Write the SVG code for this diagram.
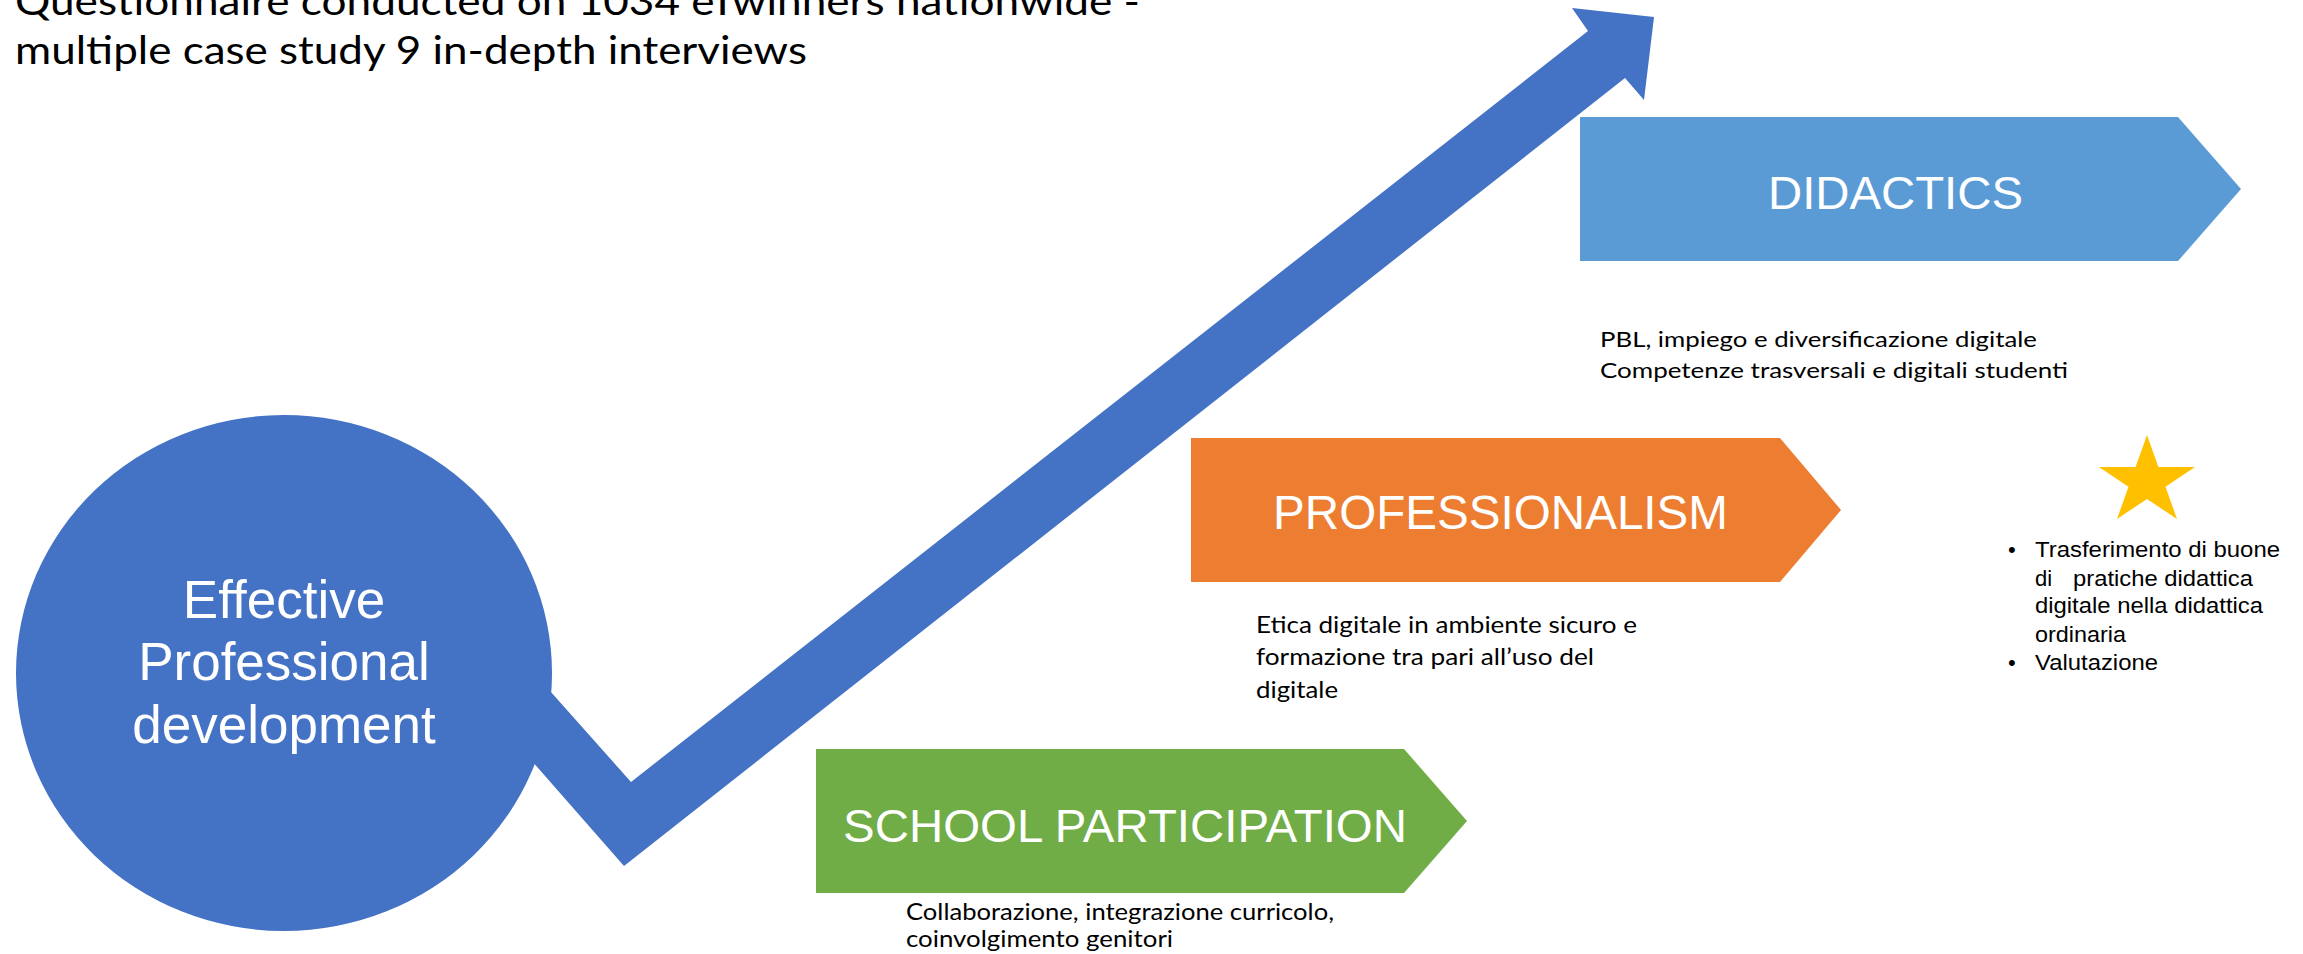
<svg xmlns="http://www.w3.org/2000/svg" width="2303" height="954" viewBox="0 0 2303 954">
<style>
.hdr{font-family:"Liberation Sans",Arial,sans-serif;fill:#ffffff;}
.body{font-family:Lato,"Open Sans",sans-serif;fill:#000000;}
.arial{font-family:"Liberation Sans",Arial,sans-serif;fill:#000000;}
</style>
<rect x="0" y="0" width="2303" height="954" fill="#ffffff"/>
<g id="title">
<text class="body" font-size="39" x="15" y="15" textLength="1125" lengthAdjust="spacingAndGlyphs">Questionnaire conducted on 1034 eTwinners nationwide -</text>
<text class="body" font-size="39" x="15" y="64" textLength="792" lengthAdjust="spacingAndGlyphs">multiple case study 9 in-depth interviews</text>
</g>
<g id="connectors">
<polygon points="471,602 631,782 1588,31 1572,8 1654,17 1644,100 1625,78 624,866 453,671" fill="#4472C4"/>
</g>
<g id="effective-pd">
<ellipse cx="284" cy="673" rx="268" ry="258" fill="#4472C4"/>
<text class="hdr" font-size="53" text-anchor="middle" x="284" y="618">Effective</text>
<text class="hdr" font-size="53" text-anchor="middle" x="284" y="680">Professional</text>
<text class="hdr" font-size="53" text-anchor="middle" x="284" y="743">development</text>
</g>
<g id="didactics">
<polygon points="1580,117 2178,117 2241,189 2178,261 1580,261" fill="#5B9BD5"/>
<text class="hdr" font-size="47" x="1768" y="209" textLength="255" lengthAdjust="spacingAndGlyphs">DIDACTICS</text>
<text class="body" font-size="22" x="1600" y="347" textLength="437" lengthAdjust="spacingAndGlyphs">PBL, impiego e diversificazione digitale</text>
<text class="body" font-size="22" x="1600" y="378" textLength="468" lengthAdjust="spacingAndGlyphs">Competenze trasversali e digitali studenti</text>
</g>
<g id="professionalism">
<polygon points="1191,438 1780,438 1841,510 1780,582 1191,582" fill="#ED7D31"/>
<text class="hdr" font-size="47.5" x="1273" y="529" textLength="455" lengthAdjust="spacingAndGlyphs">PROFESSIONALISM</text>
<text class="body" font-size="24" x="1256" y="633" textLength="381" lengthAdjust="spacingAndGlyphs">Etica digitale in ambiente sicuro e</text>
<text class="body" font-size="24" x="1256" y="665" textLength="338" lengthAdjust="spacingAndGlyphs">formazione tra pari all’uso del</text>
<text class="body" font-size="24" x="1256" y="698" textLength="82" lengthAdjust="spacingAndGlyphs">digitale</text>
</g>
<g id="school-participation">
<polygon points="816,749 1404,749 1467,821 1404,893 816,893" fill="#70AD47"/>
<text class="hdr" font-size="47" x="843" y="842" textLength="564" lengthAdjust="spacingAndGlyphs">SCHOOL PARTICIPATION</text>
<text class="body" font-size="24" x="906" y="920" textLength="428" lengthAdjust="spacingAndGlyphs">Collaborazione, integrazione curricolo,</text>
<text class="body" font-size="24" x="906" y="947" textLength="267" lengthAdjust="spacingAndGlyphs">coinvolgimento genitori</text>
</g>
<g id="star-notes">
<polygon points="2147,435 2158.4,467 2195,467 2165.5,486.7 2177,519 2147,499 2117,519 2128.5,486.7 2099,467 2135.6,467" fill="#FFC000"/>
<text class="arial" font-size="22" x="2008" y="557">•</text>
<text class="arial" font-size="22" x="2035" y="557" textLength="245" lengthAdjust="spacingAndGlyphs">Trasferimento di buone</text>
<text class="arial" font-size="22" x="2035" y="586">di</text>
<text class="arial" font-size="22" x="2073" y="586" textLength="180" lengthAdjust="spacingAndGlyphs">pratiche didattica</text>
<text class="arial" font-size="22" x="2035" y="613" textLength="228" lengthAdjust="spacingAndGlyphs">digitale nella didattica</text>
<text class="arial" font-size="22" x="2035" y="642" textLength="91" lengthAdjust="spacingAndGlyphs">ordinaria</text>
<text class="arial" font-size="22" x="2008" y="670">•</text>
<text class="arial" font-size="22" x="2035" y="670" textLength="123" lengthAdjust="spacingAndGlyphs">Valutazione</text>
</g>
</svg>
